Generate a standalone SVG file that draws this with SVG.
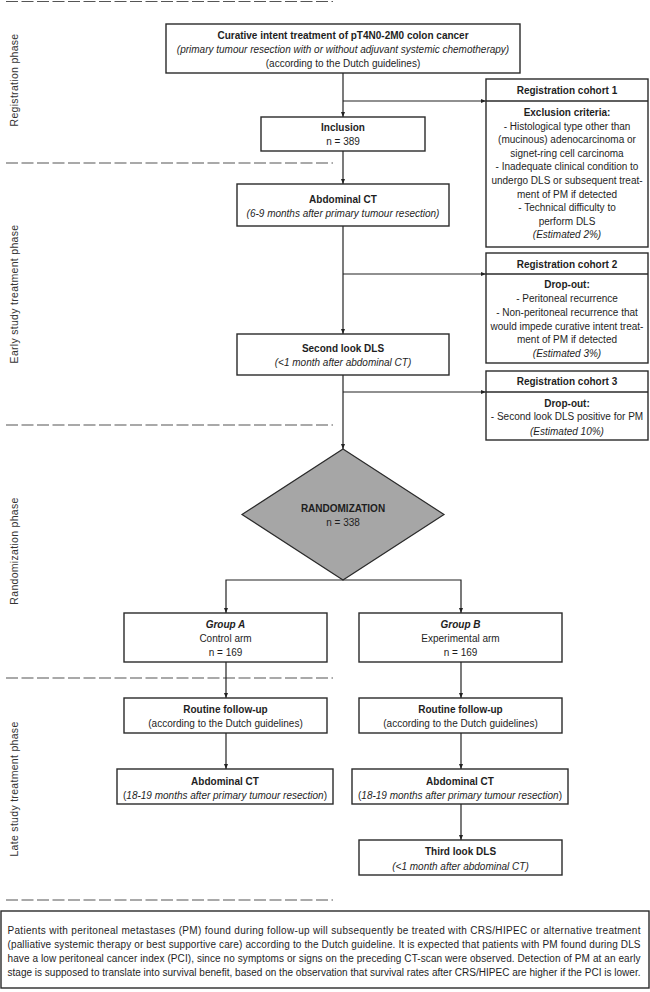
<svg xmlns="http://www.w3.org/2000/svg" width="650" height="992" viewBox="0 0 650 992">
<defs>
<marker id="arr" viewBox="0 0 5 4" markerWidth="5" markerHeight="4" refX="5" refY="2" orient="auto" markerUnits="userSpaceOnUse">
<path d="M0,0 L5,2 L0,4 z" fill="#222"/>
</marker>
<style>
.box{fill:#fff;stroke:#2a2a2a;stroke-width:1.4}
.dia{fill:#a6a6a6;stroke:#2a2a2a;stroke-width:1.2}
.con{fill:none;stroke:#222;stroke-width:1.2}
.sep{fill:none;stroke:#2a2a2a;stroke-width:1.4}
.arr{marker-end:url(#arr)}
.dash{fill:none;stroke:#555;stroke-width:1.1;stroke-dasharray:12 3.5}
text{font-family:"Liberation Sans",Arial,sans-serif;font-size:10px;fill:#1e1e1e;text-anchor:middle}
.b{font-weight:bold}
.i{font-style:italic}
.phase{font-size:10.5px;letter-spacing:0.3px;fill:#333}
.note{text-anchor:start}
</style>
</defs>

<g id="phase-lines">
<line class="dash" x1="6" y1="1.5" x2="333" y2="1.5"/>
<line class="dash" x1="6" y1="163" x2="333" y2="163"/>
<line class="dash" x1="6" y1="425" x2="333" y2="425"/>
<line class="dash" x1="6" y1="678" x2="333" y2="678"/>
<line class="dash" x1="6" y1="900" x2="333" y2="900"/>
</g>

<g id="phase-labels">
<text class="phase" transform="translate(18,80) rotate(-90)">Registration phase</text>
<text class="phase" transform="translate(18,294) rotate(-90)">Early study treatment phase</text>
<text class="phase" transform="translate(18,551) rotate(-90)">Randomization phase</text>
<text class="phase" transform="translate(18,789) rotate(-90)">Late study treatment phase</text>
</g>

<g id="connectors">
<line class="con arr" x1="343" y1="73" x2="343" y2="117"/>
<line class="con arr" x1="343" y1="101" x2="486" y2="101"/>
<line class="con arr" x1="343" y1="151" x2="343" y2="184"/>
<line class="con arr" x1="343" y1="226" x2="343" y2="334"/>
<line class="con arr" x1="343" y1="274" x2="486" y2="274"/>
<line class="con arr" x1="343" y1="375" x2="343" y2="449"/>
<line class="con arr" x1="343" y1="392" x2="486" y2="392"/>
<polyline class="con arr" points="343,580 226,580 226,613"/>
<polyline class="con arr" points="343,580 461,580 461,613"/>
<line class="con arr" x1="226" y1="662" x2="226" y2="698"/>
<line class="con arr" x1="226" y1="733" x2="226" y2="769"/>
<line class="con arr" x1="461" y1="662" x2="461" y2="698"/>
<line class="con arr" x1="461" y1="733" x2="461" y2="769"/>
<line class="con arr" x1="461" y1="804" x2="461" y2="840"/>
</g>

<g id="curative">
<rect class="box" x="166" y="24" width="354" height="49"/>
<text class="b" x="343" y="38.5">Curative intent treatment of pT4N0-2M0 colon cancer</text>
<text class="i" x="343" y="52.5">(primary tumour resection with or without adjuvant systemic chemotherapy)</text>
<text x="343" y="66.5">(according to the Dutch guidelines)</text>
</g>

<g id="inclusion">
<rect class="box" x="261" y="117" width="164" height="34"/>
<text class="b" x="343" y="130.5">Inclusion</text>
<text x="343" y="144.5">n = 389</text>
</g>

<g id="abdominal-ct-1">
<rect class="box" x="237" y="184" width="212" height="42"/>
<text class="b" x="343" y="202.5">Abdominal CT</text>
<text class="i" x="343" y="216.5">(6-9 months after primary tumour resection)</text>
</g>

<g id="second-look">
<rect class="box" x="237" y="334" width="212" height="41"/>
<text class="b" x="343" y="351.5">Second look DLS</text>
<text class="i" x="343" y="366">(&lt;1 month after abdominal CT)</text>
</g>

<g id="cohort-1">
<rect class="box" x="486" y="79" width="162" height="168"/>
<line class="sep" x1="486" y1="101" x2="648" y2="101"/>
<text class="b" x="567" y="93.5">Registration cohort 1</text>
<text class="b" x="567" y="116">Exclusion criteria:</text>
<text x="567" y="129.6">- Histological type other than</text>
<text x="567" y="143.2">(mucinous) adenocarcinoma or</text>
<text x="567" y="156.8">signet-ring cell carcinoma</text>
<text x="567" y="170.4">- Inadequate clinical condition to</text>
<text x="567" y="184">undergo DLS or subsequent treat-</text>
<text x="567" y="197.6">ment of PM if detected</text>
<text x="567" y="211.2">- Technical difficulty to</text>
<text x="567" y="224.8">perform DLS</text>
<text class="i" x="567" y="238.4">(Estimated 2%)</text>
</g>

<g id="cohort-2">
<rect class="box" x="486" y="253" width="162" height="110"/>
<line class="sep" x1="486" y1="274" x2="648" y2="274"/>
<text class="b" x="567" y="267.5">Registration cohort 2</text>
<text class="b" x="567" y="287.5">Drop-out:</text>
<text x="567" y="302">- Peritoneal recurrence</text>
<text x="567" y="315.8">- Non-peritoneal recurrence that</text>
<text x="567" y="329.6">would impede curative intent treat-</text>
<text x="567" y="343.4">ment of PM if detected</text>
<text class="i" x="567" y="357.2">(Estimated 3%)</text>
</g>

<g id="cohort-3">
<rect class="box" x="486" y="371" width="162" height="69"/>
<line class="sep" x1="486" y1="392" x2="648" y2="392"/>
<text class="b" x="567" y="384.5">Registration cohort 3</text>
<text class="b" x="567" y="406.5">Drop-out:</text>
<text x="567" y="420">- Second look DLS positive for PM</text>
<text class="i" x="567" y="434.5">(Estimated 10%)</text>
</g>

<g id="randomization">
<polygon class="dia" points="343,449 444,514.5 343,580 242,514.5"/>
<text class="b" x="343" y="511.5">RANDOMIZATION</text>
<text x="343" y="525.5">n = 338</text>
</g>

<g id="group-a">
<rect class="box" x="124" y="613" width="203" height="49"/>
<text class="b i" x="225.5" y="627.5">Group A</text>
<text x="225.5" y="641.5">Control arm</text>
<text x="225.5" y="655.5">n = 169</text>
</g>

<g id="group-b">
<rect class="box" x="359" y="613" width="203" height="49"/>
<text class="b i" x="460.5" y="627.5">Group B</text>
<text x="460.5" y="641.5">Experimental arm</text>
<text x="460.5" y="655.5">n = 169</text>
</g>

<g id="routine-a">
<rect class="box" x="124" y="698" width="203" height="35"/>
<text class="b" x="225.5" y="712.5">Routine follow-up</text>
<text x="225.5" y="726.5">(according to the Dutch guidelines)</text>
</g>

<g id="routine-b">
<rect class="box" x="359" y="698" width="203" height="35"/>
<text class="b" x="460.5" y="712.5">Routine follow-up</text>
<text x="460.5" y="726.5">(according to the Dutch guidelines)</text>
</g>

<g id="abdominal-ct-a">
<rect class="box" x="117" y="769" width="216" height="35"/>
<text class="b" x="225" y="784.5">Abdominal CT</text>
<text x="225" y="798.5">(<tspan class="i">18-19 months after primary tumour resection</tspan>)</text>
</g>

<g id="abdominal-ct-b">
<rect class="box" x="352" y="769" width="216" height="35"/>
<text class="b" x="460" y="784.5">Abdominal CT</text>
<text x="460" y="798.5">(<tspan class="i">18-19 months after primary tumour resection</tspan>)</text>
</g>

<g id="third-look">
<rect class="box" x="359" y="840" width="203" height="35"/>
<text class="b" x="460.5" y="854.5">Third look DLS</text>
<text class="i" x="460.5" y="869.5">(&lt;1 month after abdominal CT)</text>
</g>

<g id="note">
<rect class="box" x="1" y="911" width="648" height="77"/>
<text class="note" x="7.5" y="933.5" textLength="633" lengthAdjust="spacing">Patients with peritoneal metastases (PM) found during follow-up will subsequently be treated with CRS/HIPEC or alternative treatment</text>
<text class="note" x="7.5" y="947.5" textLength="633" lengthAdjust="spacing">(palliative systemic therapy or best supportive care) according to the Dutch guideline. It is expected that patients with PM found during DLS</text>
<text class="note" x="7.5" y="961.5" textLength="633" lengthAdjust="spacing">have a low peritoneal cancer index (PCI), since no symptoms or signs on the preceding CT-scan were observed. Detection of PM at an early</text>
<text class="note" x="7.5" y="975.5" textLength="633" lengthAdjust="spacing">stage is supposed to translate into survival benefit, based on the observation that survival rates after CRS/HIPEC are higher if the PCI is lower.</text>
</g>
</svg>
